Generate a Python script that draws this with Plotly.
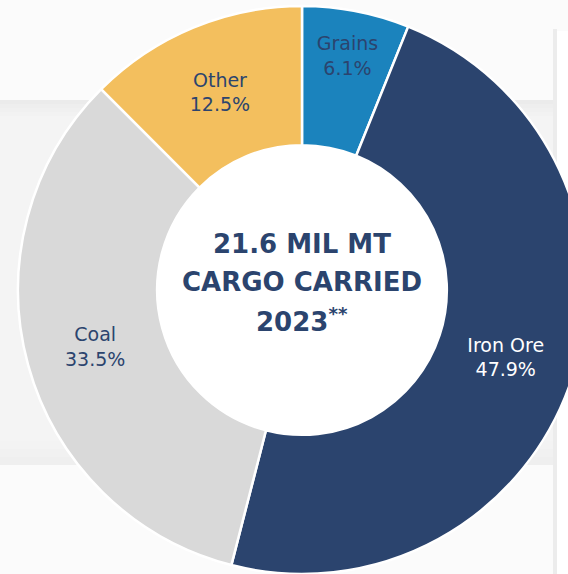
import plotly.graph_objects as go

# ---- data ----
labels = ["Grains", "Iron Ore", "Coal", "Other"]
values = [6.1, 47.9, 33.5, 12.5]
colors = ["#1b83bd", "#2b446e", "#d9d9d9", "#f3bf5e"]
text_colors = ["#2b446e", "#ffffff", "#2b446e", "#2b446e"]
center_lines = ["21.6 MIL MT", "CARGO CARRIED", "2023<sup>**</sup>"]

W, H = 586, 574
ML, MT = 18, 6
PW, PH = 568, 568
HOLE = 0.51

def px(x):
    return (x - ML) / PW

def py(y):
    return 1 - (y - MT) / PH

fig = go.Figure()
fig.add_trace(go.Pie(
    labels=labels,
    values=values,
    hole=HOLE,
    sort=False,
    direction="clockwise",
    rotation=0,
    marker=dict(colors=colors, line=dict(color="#ffffff", width=2.5)),
    texttemplate="%{label}<br>%{percent:.1%}",
    textposition="inside",
    insidetextorientation="horizontal",
    insidetextfont=dict(family="DejaVu Sans", size=19, color=text_colors),
    hoverinfo="label+percent",
    showlegend=False,
))

shapes = []
# background band with soft edges
shapes.append(dict(type="rect", xref="paper", yref="paper", x0=px(-20), x1=px(600),
                   y0=py(465), y1=py(100), fillcolor="#f4f4f4", line=dict(width=0), layer="below"))
for i, c in enumerate(["#ebebeb", "#eeeeee", "#f0f0f0", "#f2f2f2"]):
    shapes.append(dict(type="rect", xref="paper", yref="paper", x0=px(-20), x1=px(600),
                       y0=py(100 + 4 * (i + 1)), y1=py(100 + 4 * i), fillcolor=c,
                       line=dict(width=0), layer="below"))
for i, c in enumerate(["#efefef", "#f1f1f1", "#f3f3f3"]):
    shapes.append(dict(type="rect", xref="paper", yref="paper", x0=px(-20), x1=px(600),
                       y0=py(465 - 8 * i), y1=py(465 - 8 * (i + 1)), fillcolor=c,
                       line=dict(width=0), layer="below"))
# right panel shadow + panel
shapes.append(dict(type="rect", xref="paper", yref="paper", x0=px(553), x1=px(557),
                   y0=py(600), y1=py(29), fillcolor="#ececec", line=dict(width=0), layer="below"))
shapes.append(dict(type="rect", xref="paper", yref="paper", x0=px(557), x1=px(620),
                   y0=py(600), y1=py(31), fillcolor="#ffffff", line=dict(width=0), layer="below"))
# white disc filling the donut hole
r_hole = 0.5 * HOLE
shapes.append(dict(type="circle", xref="paper", yref="paper",
                   x0=0.5 - r_hole, x1=0.5 + r_hole, y0=0.5 - r_hole, y1=0.5 + r_hole,
                   fillcolor="#ffffff", line=dict(width=0), layer="below"))

annotations = []
for txt, yc in zip(center_lines, [244, 282, 320]):
    annotations.append(dict(text="<b>" + txt + "</b>", x=0.5, y=py(yc), xref="paper", yref="paper",
                            xanchor="center", yanchor="middle", showarrow=False,
                            font=dict(family="DejaVu Sans", size=26, color="#2b446e")))

fig.update_layout(
    width=W, height=H,
    margin=dict(l=ML, r=0, t=MT, b=0),
    paper_bgcolor="#fbfbfb",
    plot_bgcolor="#fbfbfb",
    shapes=shapes,
    annotations=annotations,
)

fig.write_html("out.html",
               config={"displayModeBar": False},
               post_script="document.body.style.margin='0';document.body.style.overflow='hidden';")
